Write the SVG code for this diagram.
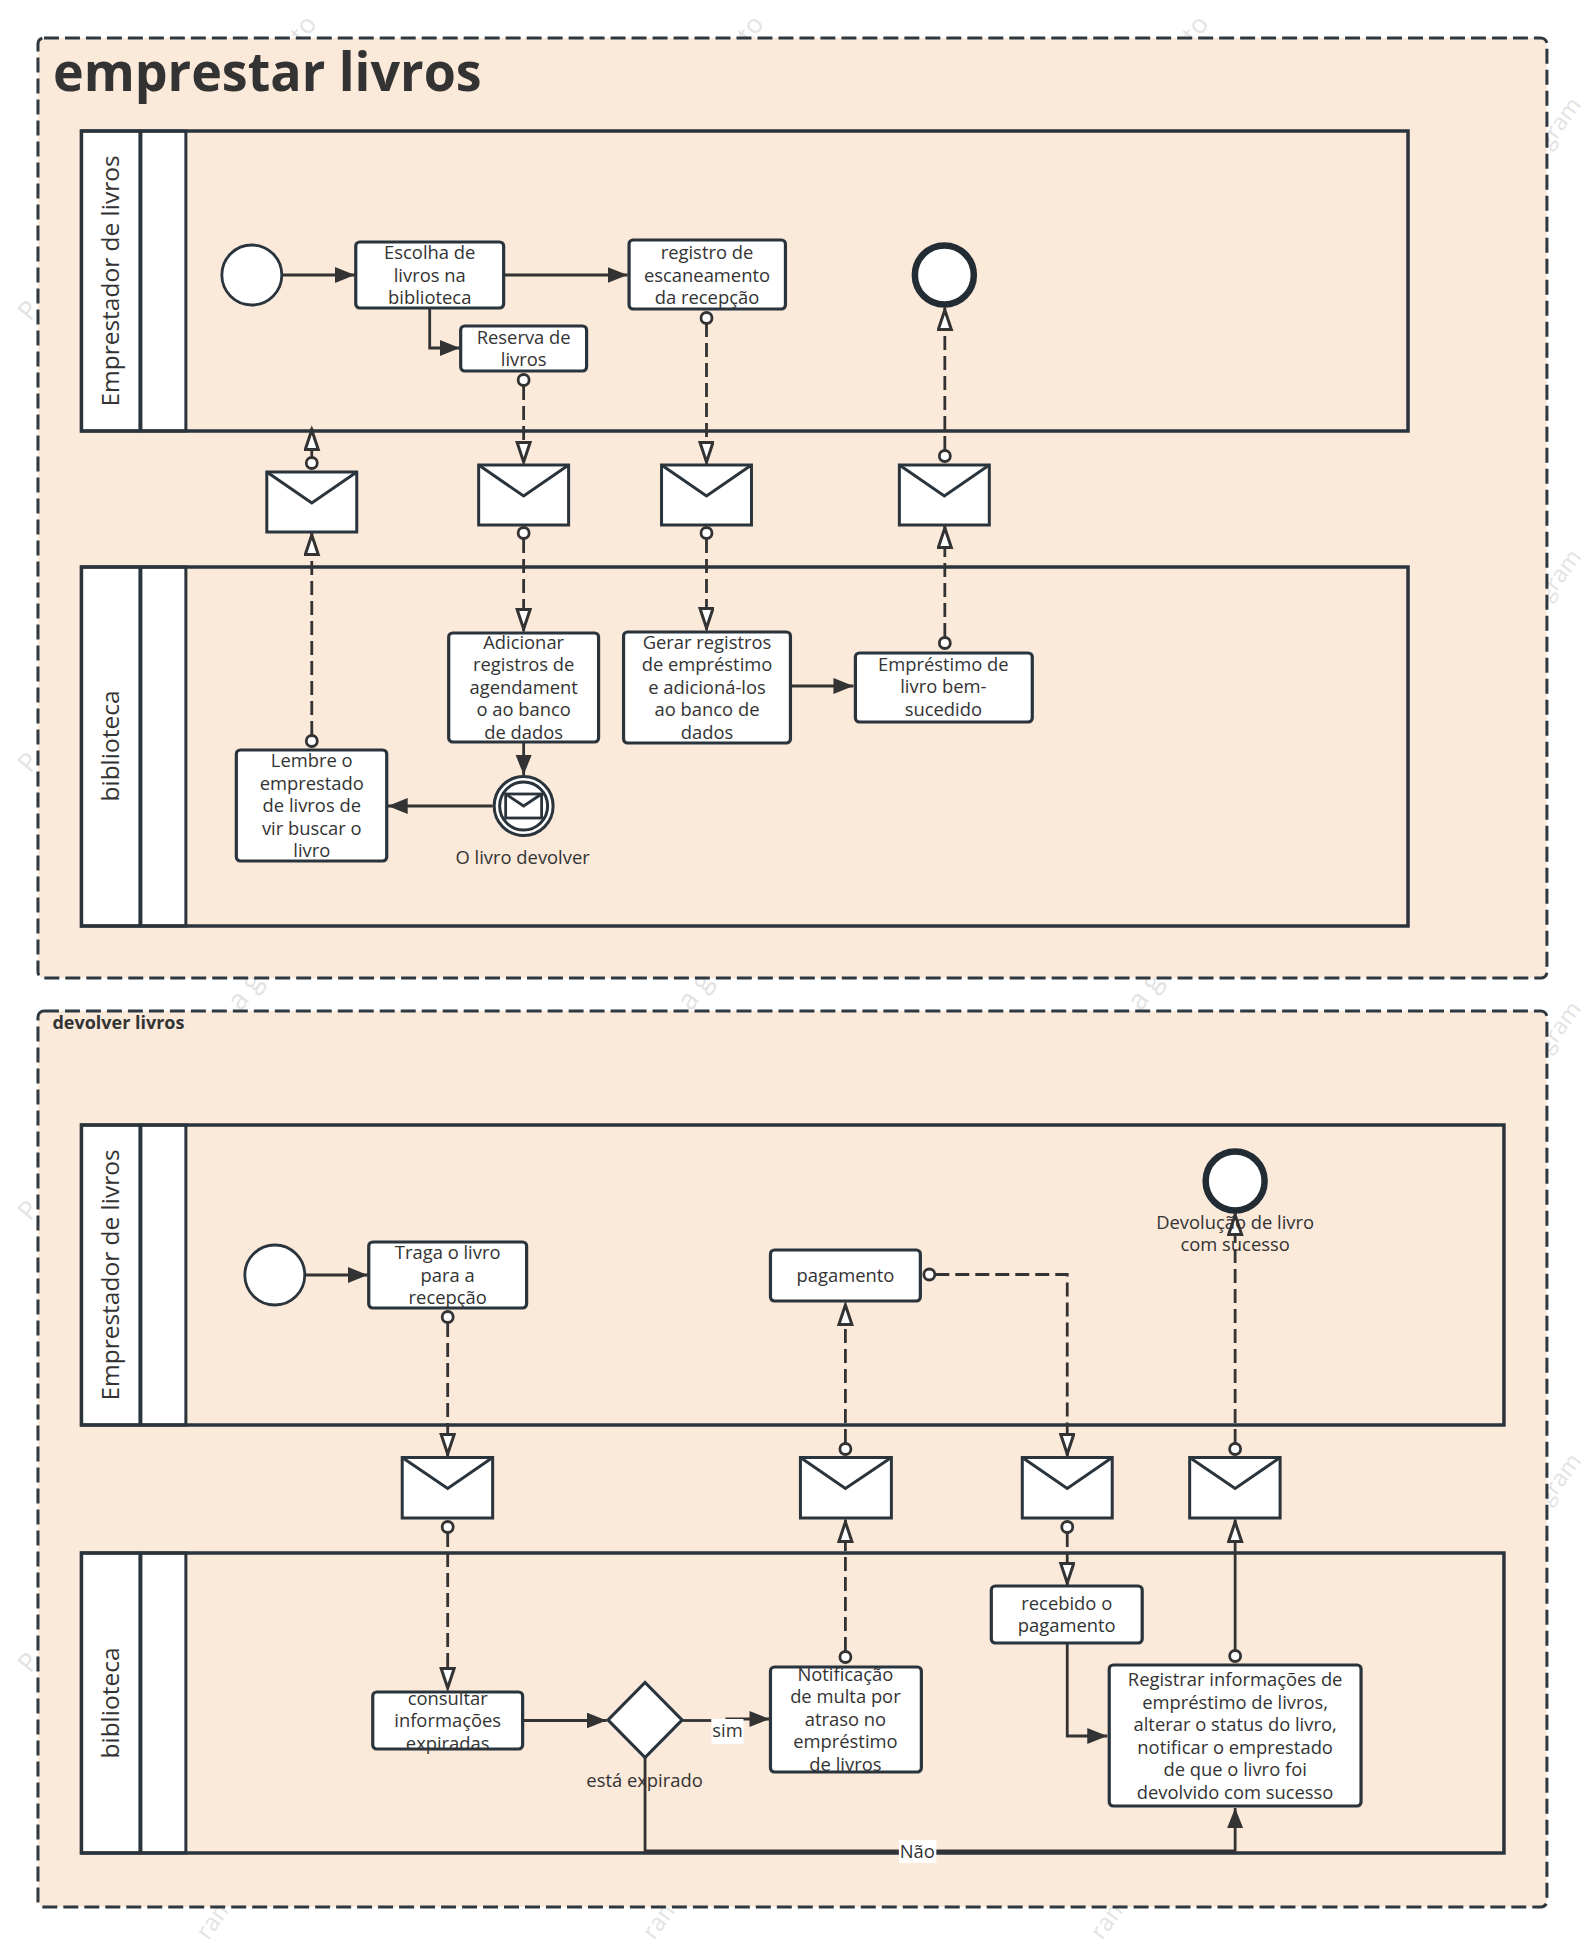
<svg xmlns="http://www.w3.org/2000/svg" width="1585" height="1944" viewBox="0 0 1585 1944">
<style>
text{font-family:"Open Sans","Noto Sans","Liberation Sans",sans-serif;fill:#333;font-size:18.4px;text-anchor:middle}
text.wm{fill:#e3e3e3;font-size:26px;text-anchor:start}
#task-escolha text,#task-registro text,#task-reserva text,#task-adicionar text,#task-gerar text,#task-lembre text,#task-registrar text{transform:translate(0,1px)}
.frame{fill:#fbe9da;stroke:#2e3840;stroke-width:3;stroke-dasharray:15 6}
.pool{fill:none;stroke:#2a343c;stroke-width:3.5}
.lane{fill:#fff;stroke:#2a343c;stroke-width:3}
.task{fill:#fff;stroke:#2a343c;stroke-width:3.2}
.env{fill:#fff;stroke:#2a343c;stroke-width:3}
.flap{fill:none;stroke:#2a343c;stroke-width:3}
.start{fill:#fff;stroke:#2a343c;stroke-width:2.8}
.end{fill:#fff;stroke:#222c34;stroke-width:6.5}
.flow{fill:none;stroke:#333;stroke-width:2.8}
.msg{fill:none;stroke:#333;stroke-width:2.8;stroke-dasharray:14 6}
.dot{fill:#fff;stroke:#333;stroke-width:2.8}
text.title{font-weight:700;text-anchor:start}
text.pl{font-size:24.5px}
</style>
<defs>
<marker id="fill" markerUnits="userSpaceOnUse" markerWidth="24" markerHeight="18" refX="20" refY="8" orient="auto"><path d="M0 0L20 8L0 16Z" fill="#333"/></marker>
<marker id="open" markerUnits="userSpaceOnUse" markerWidth="28" markerHeight="20" refX="23" refY="8" orient="auto"><path d="M1.5 1.5L21 8L1.5 14.5Z" fill="#fff" stroke="#333" stroke-width="3"/></marker>
</defs>

<g id="watermarks">
<text class="wm" transform="translate(30 322) rotate(-50)">P</text>
<text class="wm" transform="translate(30 774) rotate(-50)">P</text>
<text class="wm" transform="translate(30 1222) rotate(-50)">P</text>
<text class="wm" transform="translate(30 1674) rotate(-50)">P</text>
<text class="wm" transform="translate(303 44) rotate(-54)">to</text>
<text class="wm" transform="translate(750 44) rotate(-54)">to</text>
<text class="wm" transform="translate(1195 44) rotate(-54)">to</text>
<text class="wm" style="font-size:23px" transform="translate(1549 150) rotate(-54)">gram</text>
<text class="wm" style="font-size:23px" transform="translate(1549 602) rotate(-54)">gram</text>
<text class="wm" style="font-size:23px" transform="translate(1549 1054) rotate(-54)">gram</text>
<text class="wm" style="font-size:23px" transform="translate(1549 1506) rotate(-54)">gram</text>
<text class="wm" style="font-size:28px" transform="translate(241 1012) rotate(-54)">a g</text>
<text class="wm" style="font-size:28px" transform="translate(691 1012) rotate(-54)">a g</text>
<text class="wm" style="font-size:28px" transform="translate(1141 1012) rotate(-54)">a g</text>
<text class="wm" style="font-size:24px" transform="translate(208 1941) rotate(-54)">ram</text>
<text class="wm" style="font-size:24px" transform="translate(654 1941) rotate(-54)">ram</text>
<text class="wm" style="font-size:24px" transform="translate(1102 1941) rotate(-54)">ram</text>
</g>

<g id="diagram" transform="scale(0.9993 1)">
<g id="frame-emprestar"><rect class="frame" x="38" y="38" width="1510" height="940" rx="6"/>
<text class="title" x="53" y="91" style="font-size:54px" textLength="429" lengthAdjust="spacingAndGlyphs">emprestar livros</text></g>
<g id="frame-devolver"><rect class="frame" x="38" y="1011" width="1510" height="896" rx="6"/>
<text class="title" x="52.500" y="1029" style="font-size:18px">devolver livros</text></g>

<g id="pool-1"><rect class="lane" x="81.500" y="131" width="58.500" height="300"/><rect class="lane" x="141" y="131" width="45" height="300"/><rect class="pool" x="81.500" y="131" width="1327.500" height="300"/>
<text class="pl" transform="translate(111.500 281) rotate(-90)" y="8">Emprestador de livros</text></g>
<g id="pool-2"><rect class="lane" x="81.500" y="567" width="58.500" height="359"/><rect class="lane" x="141" y="567" width="45" height="359"/><rect class="pool" x="81.500" y="567" width="1327.500" height="359"/>
<text class="pl" transform="translate(111.500 746) rotate(-90)" y="8">biblioteca</text></g>
<g id="pool-3"><rect class="lane" x="81.500" y="1125" width="58.500" height="300"/><rect class="lane" x="141" y="1125" width="45" height="300"/><rect class="pool" x="81.500" y="1125" width="1423.500" height="300"/>
<text class="pl" transform="translate(111.500 1275) rotate(-90)" y="8">Emprestador de livros</text></g>
<g id="pool-4"><rect class="lane" x="81.500" y="1553" width="58.500" height="300"/><rect class="lane" x="141" y="1553" width="45" height="300"/><rect class="pool" x="81.500" y="1553" width="1423.500" height="300"/>
<text class="pl" transform="translate(111.500 1703) rotate(-90)" y="8">biblioteca</text></g>

<g id="connectors">
<path class="flow" marker-end="url(#fill)" d="M283 275H355"/>
<path class="flow" marker-end="url(#fill)" d="M505 275H628"/>
<path class="flow" marker-end="url(#fill)" d="M430 309V348H460"/>
<path class="msg" marker-end="url(#open)" d="M707 323V464"/>
<path class="msg" marker-end="url(#open)" d="M524 386V464"/>
<path class="msg" marker-end="url(#open)" d="M524 539V631"/>
<path class="msg" marker-end="url(#open)" d="M707 539V630"/>
<path class="flow" marker-end="url(#fill)" d="M524 742V775"/>
<path class="flow" marker-end="url(#fill)" d="M792 686H854"/>
<path class="flow" marker-end="url(#fill)" d="M493 806H388"/>
<path class="msg" marker-end="url(#open)" d="M945.500 637V526"/>
<path class="msg" marker-end="url(#open)" d="M945.500 450V308"/>
<path class="msg" marker-end="url(#open)" d="M312 735V533"/>
<path class="msg" marker-end="url(#open)" d="M312 457V428"/>
<path class="flow" marker-end="url(#fill)" d="M306 1275H368"/>
<path class="msg" marker-end="url(#open)" d="M448 1323V1456"/>
<path class="msg" marker-end="url(#open)" d="M448 1533V1690"/>
<path class="flow" marker-end="url(#fill)" d="M524 1720.500H607"/>
<path class="flow" d="M683 1720.500H712"/>
<path class="flow" marker-end="url(#fill)" d="M726 1719H770"/>
<path class="msg" marker-end="url(#open)" d="M846 1651V1520"/>
<path class="msg" marker-end="url(#open)" d="M846 1443V1303"/>
<path class="msg" marker-end="url(#open)" d="M936 1274.500H1068V1456"/>
<path class="msg" marker-end="url(#open)" d="M1068 1533V1585"/>
<path class="msg" marker-end="url(#open)" d="M1236 1443V1213"/>
<path class="flow" marker-end="url(#open)" d="M1236 1650V1520"/>
<path class="flow" marker-end="url(#fill)" d="M1068 1644V1736H1108"/>
<path class="flow" marker-end="url(#fill)" d="M645.500 1758V1851H1236V1808"/>
<circle class="dot" cx="707" cy="318" r="5.500"/>
<circle class="dot" cx="524" cy="380" r="5.500"/>
<circle class="dot" cx="524" cy="533" r="5.500"/>
<circle class="dot" cx="707" cy="533" r="5.500"/>
<circle class="dot" cx="945.500" cy="643" r="5.500"/>
<circle class="dot" cx="945.500" cy="456" r="5.500"/>
<circle class="dot" cx="312" cy="741" r="5.500"/>
<circle class="dot" cx="312" cy="463" r="5.500"/>
<circle class="dot" cx="448" cy="1317" r="5.500"/>
<circle class="dot" cx="448" cy="1527" r="5.500"/>
<circle class="dot" cx="846" cy="1657" r="5.500"/>
<circle class="dot" cx="846" cy="1449" r="5.500"/>
<circle class="dot" cx="930" cy="1274.500" r="5.500"/>
<circle class="dot" cx="1068" cy="1527" r="5.500"/>
<circle class="dot" cx="1236" cy="1449" r="5.500"/>
<circle class="dot" cx="1236" cy="1656" r="5.500"/>
</g>

<g id="start-1"><circle class="start" cx="252" cy="275" r="30"/></g>
<g id="task-escolha"><rect class="task" x="356" y="242" width="148" height="66" rx="4"/><text x="430" y="258.500">Escolha de</text><text x="430" y="281">livros na</text><text x="430" y="303.500">biblioteca</text></g>
<g id="task-registro"><rect class="task" x="629.500" y="240" width="156.500" height="69" rx="4"/><text x="707.500" y="258.500">registro de</text><text x="707.500" y="281">escaneamento</text><text x="707.500" y="303.500">da recepção</text></g>
<g id="task-reserva"><rect class="task" x="461" y="326" width="126" height="45" rx="4"/><text x="524" y="343">Reserva de</text><text x="524" y="365">livros</text></g>
<g id="end-1"><circle class="end" cx="945" cy="275" r="29.500"/></g>

<g id="msg-1"><rect class="env" x="267" y="472" width="90" height="60"/><path class="flap" d="M267 472L312 503L357 472"/></g>
<g id="msg-2"><rect class="env" x="479" y="465" width="90" height="60"/><path class="flap" d="M479 465L524 496L569 465"/></g>
<g id="msg-3"><rect class="env" x="662" y="465" width="90" height="60"/><path class="flap" d="M662 465L707 496L752 465"/></g>
<g id="msg-4"><rect class="env" x="900" y="465" width="90" height="60"/><path class="flap" d="M900 465L945 496L990 465"/></g>

<g id="task-adicionar"><rect class="task" x="449" y="633" width="150" height="109" rx="4"/><text x="524" y="648.500">Adicionar</text><text x="524" y="670.500">registros de</text><text x="524" y="693.500">agendament</text><text x="524" y="715.500">o ao banco</text><text x="524" y="738.500">de dados</text></g>
<g id="task-gerar"><rect class="task" x="624" y="632" width="167" height="111" rx="4"/><text x="707.500" y="648.500">Gerar registros</text><text x="707.500" y="670.500">de empréstimo</text><text x="707.500" y="693.500">e adicioná-los</text><text x="707.500" y="715.500">ao banco de</text><text x="707.500" y="738.500">dados</text></g>
<g id="task-emprestimo"><rect class="task" x="856" y="653" width="177" height="69" rx="4"/><text x="944" y="671">Empréstimo de</text><text x="944" y="693.500">livro bem-</text><text x="944" y="716">sucedido</text></g>
<g id="task-lembre"><rect class="task" x="236.500" y="750" width="150.500" height="111" rx="4"/><text x="312" y="766.500">Lembre o</text><text x="312" y="789.500">emprestado</text><text x="312" y="811.500">de livros de</text><text x="312" y="834.500">vir buscar o</text><text x="312" y="856.500">livro</text></g>
<g id="event-devolver"><circle cx="524" cy="806" r="29.500" fill="#fff" stroke="#2a343c" stroke-width="3"/><circle cx="524" cy="806" r="24" fill="none" stroke="#2a343c" stroke-width="3"/><rect x="506" y="794" width="36" height="24" fill="#fff" stroke="#2a343c" stroke-width="2.800"/><path d="M506 794L524 806L542 794" fill="none" stroke="#2a343c" stroke-width="2.800"/><text x="523" y="864.500">O livro devolver</text></g>

<g id="start-2"><circle class="start" cx="275" cy="1275" r="30"/></g>
<g id="task-traga"><rect class="task" x="369" y="1242" width="158" height="66" rx="4"/><text x="448" y="1259">Traga o livro</text><text x="448" y="1282">para a</text><text x="448" y="1304">recepção</text></g>
<g id="task-pagamento"><rect class="task" x="771" y="1250" width="150" height="51" rx="4"/><text x="846" y="1282">pagamento</text></g>
<g id="end-2"><circle class="end" cx="1236" cy="1181" r="29.500"/></g>
<g id="label-devolucao"><text x="1236" y="1229">Devolução de livro</text><text x="1236" y="1251">com sucesso</text></g>

<g id="msg-5"><rect class="env" x="402.500" y="1457.500" width="90.500" height="60.500"/><path class="flap" d="M402.500 1457.500L448 1488.500L493 1457.500"/></g>
<g id="msg-6"><rect class="env" x="801" y="1457.500" width="91" height="60.500"/><path class="flap" d="M801 1457.500L846 1488.500L892 1457.500"/></g>
<g id="msg-7"><rect class="env" x="1023" y="1457.500" width="90" height="60.500"/><path class="flap" d="M1023 1457.500L1068 1488.500L1113 1457.500"/></g>
<g id="msg-8"><rect class="env" x="1190.500" y="1457.500" width="90.500" height="60.500"/><path class="flap" d="M1190.500 1457.500L1236 1488.500L1281 1457.500"/></g>

<g id="task-recebido"><rect class="task" x="992" y="1586" width="151" height="57" rx="4"/><text x="1067.500" y="1610">recebido o</text><text x="1067.500" y="1632">pagamento</text></g>
<g id="task-registrar"><rect class="task" x="1110" y="1665" width="252" height="141" rx="4"/><text x="1236" y="1685.500">Registrar informações de</text><text x="1236" y="1708.500">empréstimo de livros,</text><text x="1236" y="1730.500">alterar o status do livro,</text><text x="1236" y="1753.500">notificar o emprestado</text><text x="1236" y="1775.500">de que o livro foi</text><text x="1236" y="1798.500">devolvido com sucesso</text></g>
<g id="task-consultar"><rect class="task" x="373" y="1692" width="150" height="57" rx="4"/><text x="448" y="1705">consultar</text><text x="448" y="1727">informações</text><text x="448" y="1750">expiradas</text></g>
<g id="gateway"><path d="M645.500 1682.500L682.500 1720L645.500 1757.500L608.500 1720Z" fill="#fff" stroke="#2a343c" stroke-width="3.200"/><text x="645" y="1787">está expirado</text></g>
<g id="task-notificacao"><rect class="task" x="771" y="1667" width="151" height="105" rx="4"/><text x="846" y="1681">Notificação</text><text x="846" y="1703">de multa por</text><text x="846" y="1726">atraso no</text><text x="846" y="1748">empréstimo</text><text x="846" y="1771">de livros</text></g>
<g id="label-sim"><rect x="712" y="1719" width="32" height="25" fill="#fff"/><text x="728" y="1737.500">sim</text></g>
<g id="label-nao"><rect x="899.500" y="1840" width="37.500" height="23" fill="#fff"/><text x="918" y="1858.500">Não</text></g>
</g>
</svg>
